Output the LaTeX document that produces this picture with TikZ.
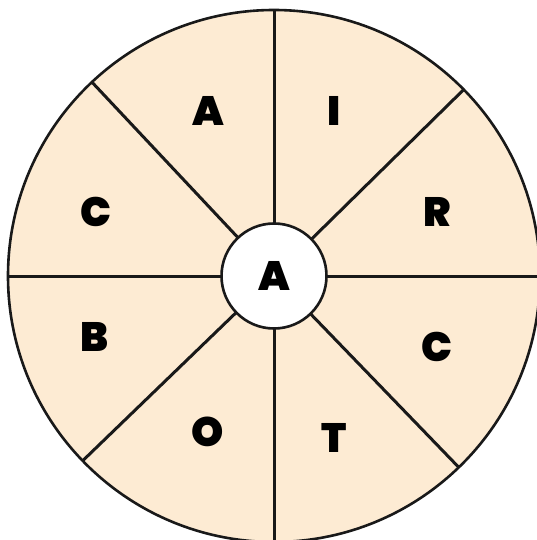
\documentclass[tikz,border=0pt]{standalone}
\usepackage{fontspec}
\newfontfamily\heavy{Poppins}[BoldFont={Poppins Black}]
\definecolor{wedge}{HTML}{FDEBD3}
\begin{document}
\begin{tikzpicture}[x=1pt,y=-1pt,
  rim/.style={draw=black!90,line width=2.6pt,fill=wedge},
  spoke/.style={draw=black!90,line width=3pt},
  letter/.style={font=\heavy\bfseries\fontsize{41}{41}\selectfont,inner sep=0pt}]
\useasboundingbox (0,0) rectangle (536,540);
\coordinate (c) at (274,276);
\node[rim,circle,minimum size=532pt,inner sep=0pt] (outer) at (c) {};
\foreach \a in {90,44.5,0,314,270,224,180,133.2}
  \draw[spoke] (c) -- ++(\a:266pt);
\node[circle,draw=black!90,line width=2.6pt,fill=white,minimum size=105pt,inner sep=0pt] (hub) at (c) {};
\node[letter] (hubA) at (c) {A};
\node[letter] (l1) at (208,111) {A};
\node[letter] (l2) at (334,111) {I};
\node[letter] (l3) at (437,212) {R};
\node[letter] (l4) at (437,347) {C};
\node[letter] (l5) at (334,438) {T};
\node[letter] (l6) at (208,432) {O};
\node[letter] (l7) at (95,337) {B};
\node[letter] (l8) at (96,212) {C};
\end{tikzpicture}
\end{document}
